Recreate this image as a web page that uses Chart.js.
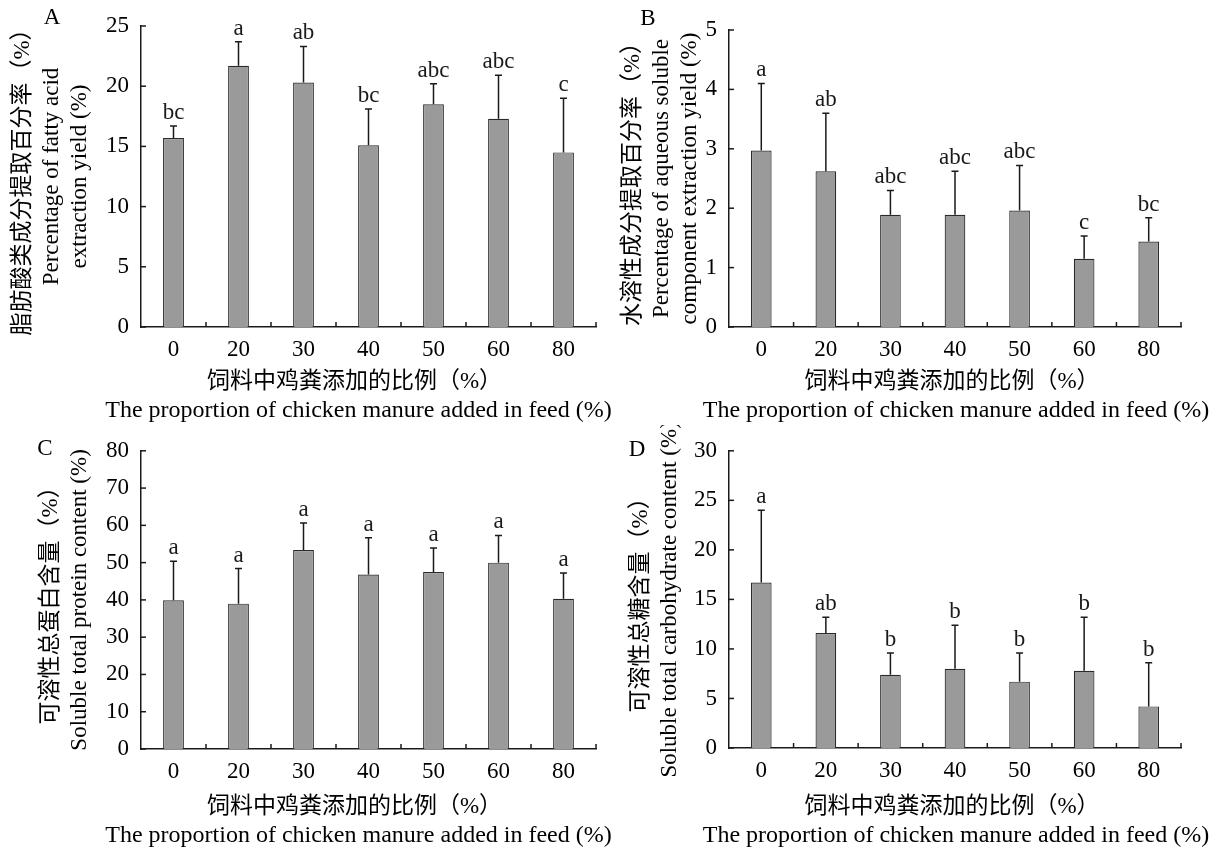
<!DOCTYPE html>
<html>
<head>
<meta charset="utf-8">
<script src="https://cdn.jsdelivr.net/npm/chart.js@4.4.1/dist/chart.umd.min.js"></script>
<style>
  body { margin: 0; background: #fff; }
  #wrap { position: relative; width: 1218px; height: 850px; }
  .panel { position: absolute; height: 425px; }
</style>
</head>
<body>
<div id="wrap">
  <div class="panel" style="left:0;top:0;width:616px"><canvas id="chartA" width="616" height="425"></canvas></div>
  <div class="panel" style="left:609px;top:0;width:609px"><canvas id="chartB" width="609" height="425"></canvas></div>
  <div class="panel" style="left:0;top:425px;width:616px"><canvas id="chartC" width="616" height="425"></canvas></div>
  <div class="panel" style="left:609px;top:425px;width:609px"><canvas id="chartD" width="609" height="425"></canvas></div>
</div>
<script>
// ============================================
// DATOS
// ============================================

const categories = ['0', '20', '30', '40', '50', '60', '80'];

// A - fatty acid extraction yield
const fattyAcid = [15.7, 21.7, 20.3, 15.1, 18.5, 17.3, 14.5];
const fattyAcidSd = [1.0, 2.0, 3.0, 3.0, 1.7, 3.6, 4.5];
const fattyAcidLetters = ['bc', 'a', 'ab', 'bc', 'abc', 'abc', 'c'];

// B - aqueous soluble component extraction yield
const aqueous = [2.97, 2.62, 1.89, 1.89, 1.96, 1.15, 1.44];
const aqueousSd = [1.13, 0.98, 0.41, 0.73, 0.76, 0.38, 0.40];
const aqueousLetters = ['a', 'ab', 'abc', 'abc', 'abc', 'c', 'bc'];

// C - soluble total protein
const protein = [39.9, 39.0, 53.4, 46.8, 47.5, 50.0, 40.3];
const proteinSd = [10.5, 9.4, 7.2, 9.9, 6.4, 7.3, 6.9];
const proteinLetters = ['a', 'a', 'a', 'a', 'a', 'a', 'a'];

// D - soluble total carbohydrate
const carbohydrate = [16.7, 11.6, 7.4, 8.0, 6.7, 7.8, 4.2];
const carbohydrateSd = [7.3, 1.6, 2.2, 4.4, 2.9, 5.4, 4.4];
const carbohydrateLetters = ['a', 'ab', 'b', 'b', 'b', 'b', 'b'];

const xTitle = ['饲料中鸡粪添加的比例（%）', 'The proportion of chicken manure added in feed (%)'];


// ============================================
// ESTILO
// ============================================

const FONT = "'Liberation Serif', 'Noto Sans CJK SC', serif";
const INK = '#1a1a1a';


// ============================================
// PLUGIN: barras de error, letras, ticks, titulo X
// ============================================

const extrasPlugin = {

    id: 'extras',

    afterDatasetsDraw(chart, args, opts) {

        const ctx = chart.ctx;
        const x = chart.scales.x;
        const y = chart.scales.y;
        const meta = chart.getDatasetMeta(0);
        const values = chart.data.datasets[0].data;

        ctx.save();
        ctx.strokeStyle = INK;
        ctx.fillStyle = INK;
        ctx.lineWidth = 1.5;

        // error bars + significance letters
        meta.data.forEach((bar, i) => {
            const top = y.getPixelForValue(values[i] + opts.sd[i]);
            ctx.beginPath();
            ctx.moveTo(bar.x, bar.y);
            ctx.lineTo(bar.x, top);
            ctx.moveTo(bar.x - 3.5, top);
            ctx.lineTo(bar.x + 3.5, top);
            ctx.stroke();

            ctx.font = '23px ' + FONT;
            ctx.textAlign = 'center';
            ctx.textBaseline = 'alphabetic';
            ctx.fillText(opts.letters[i], bar.x, top - 7);
        });

        // inward ticks on y axis
        y.ticks.forEach(t => {
            const py = y.getPixelForValue(t.value);
            ctx.beginPath();
            ctx.moveTo(chart.chartArea.left, py);
            ctx.lineTo(chart.chartArea.left + 5, py);
            ctx.stroke();
        });

        // inward ticks on x axis, between categories
        const n = categories.length;
        const step = (x.right - x.left) / n;
        for (let i = 1; i <= n; i++) {
            const px = x.left + i * step;
            ctx.beginPath();
            ctx.moveTo(px, chart.chartArea.bottom);
            ctx.lineTo(px, chart.chartArea.bottom - 5);
            ctx.stroke();
        }

        // x title (two lines, not squeezed to the axis width)
        ctx.fillStyle = '#000';
        ctx.textAlign = 'center';
        ctx.textBaseline = 'middle';
        const cx = (x.left + x.right) / 2 + opts.titleShift;
        ctx.font = '23px ' + FONT;
        ctx.fillText(xTitle[0], cx - 4, x.bottom - 43);
        ctx.font = '24px ' + FONT;
        ctx.fillText(xTitle[1], cx, x.bottom - 14);

        // panel letter
        ctx.font = '23px ' + FONT;
        ctx.fillText(opts.panel, opts.panelX, opts.panelY);

        ctx.restore();
    }
};


// ============================================
// GRAFICA GENERICA
// ============================================

function createPanel(canvasId, values, sd, letters, yMax, stepSize, yTitle, cfg) {

    const ctx = document.getElementById(canvasId).getContext('2d');

    return new Chart(ctx, {

        type: 'bar',

        data: {
            labels: categories,
            datasets: [
                {
                    data: values,
                    backgroundColor: '#9a9a9a',
                    borderColor: '#2a2a2a',
                    borderWidth: 1.2,
                    categoryPercentage: 1,
                    barPercentage: 0.32
                }
            ]
        },

        options: {

            responsive: false,
            animation: false,

            layout: {
                padding: { top: cfg.top, right: cfg.right, left: 0, bottom: 0 }
            },

            plugins: {
                legend: { display: false },
                tooltip: { enabled: false },
                extras: {
                    sd, letters,
                    titleShift: cfg.titleShift,
                    panel: cfg.panel, panelX: cfg.panelX, panelY: cfg.panelY
                }
            },

            scales: {

                x: {
                    grid: { display: false, drawTicks: false },
                    border: { display: true, color: INK, width: 1.5 },
                    ticks: {
                        color: '#000',
                        padding: 9,
                        maxRotation: 0,
                        font: { family: FONT, size: 23 }
                    },
                    afterFit(scale) { scale.height = cfg.xHeight; }
                },

                y: {
                    min: 0,
                    max: yMax,
                    grid: { display: false, drawTicks: false },
                    border: { display: true, color: INK, width: 1.5 },
                    ticks: {
                        stepSize,
                        color: '#000',
                        padding: 12,
                        font: { family: FONT, size: 23 }
                    },
                    title: {
                        display: true,
                        text: yTitle,
                        color: '#000',
                        padding: { top: cfg.titlePad, bottom: 0 },
                        font: { family: FONT, size: 23, lineHeight: 1.26 }
                    },
                    afterFit(scale) { scale.width = cfg.yWidth; }
                }
            }
        },

        plugins: [extrasPlugin]
    });
}


// ============================================
// PANELES
// ============================================

createPanel('chartA', fattyAcid, fattyAcidSd, fattyAcidLetters, 25, 5,
    ['脂肪酸类成分提取百分率（%）', 'Percentage of fatty acid', 'extraction yield (%)'],
    { top: 26, right: 20, yWidth: 141, xHeight: 98, titleShift: -10, titlePad: 8,
      panel: 'A', panelX: 52, panelY: 18 });

createPanel('chartB', aqueous, aqueousSd, aqueousLetters, 5, 1,
    ['水溶性成分提取百分率（%）', 'Percentage of aqueous soluble', 'component extraction yield (%)'],
    { top: 30, right: 37, yWidth: 120, xHeight: 98, titleShift: 1, titlePad: 9,
      panel: 'B', panelX: 39, panelY: 19 });

createPanel('chartC', protein, proteinSd, proteinLetters, 80, 10,
    ['可溶性总蛋白含量（%）', 'Soluble total protein content (%)'],
    { top: 23, right: 20, yWidth: 141, xHeight: 101, titleShift: -10, titlePad: 36,
      panel: 'C', panelX: 45, panelY: 24 });

createPanel('chartD', carbohydrate, carbohydrateSd, carbohydrateLetters, 30, 5,
    ['可溶性总糖含量（%）', 'Soluble total carbohydrate content (%)'],
    { top: 22, right: 37, yWidth: 120, xHeight: 102, titleShift: 1, titlePad: 17,
      panel: 'D', panelX: 28, panelY: 25 });
</script>
</body>
</html>
